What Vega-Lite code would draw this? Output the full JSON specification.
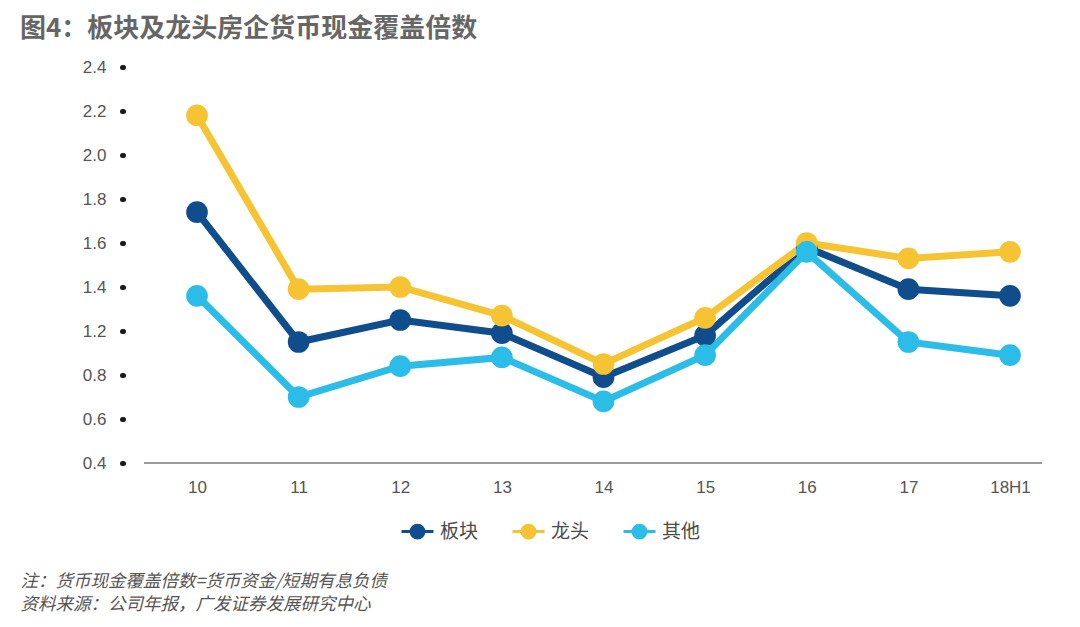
{
  "$schema": "https://vega.github.io/schema/vega-lite/v6.json",
  "width": 898,
  "height": 396,
  "autosize": "none",
  "padding": {"left": 144, "top": 67, "right": 38, "bottom": 164},
  "background": "white",
  "title": {
    "text": "图4：板块及龙头房企货币现金覆盖倍数",
    "anchor": "start",
    "frame": "group",
    "dx": -124,
    "offset": 16,
    "font": "Noto Sans CJK SC",
    "fontSize": 26,
    "fontWeight": "bold",
    "color": "#666666"
  },
  "data": {
    "values": [
      {"year": "10", "series": "板块", "value": 1.74},
      {"year": "11", "series": "板块", "value": 1.15},
      {"year": "12", "series": "板块", "value": 1.25},
      {"year": "13", "series": "板块", "value": 1.19},
      {"year": "14", "series": "板块", "value": 0.99},
      {"year": "15", "series": "板块", "value": 1.18},
      {"year": "16", "series": "板块", "value": 1.58},
      {"year": "17", "series": "板块", "value": 1.39},
      {"year": "18H1", "series": "板块", "value": 1.36},
      {"year": "10", "series": "龙头", "value": 2.18},
      {"year": "11", "series": "龙头", "value": 1.39},
      {"year": "12", "series": "龙头", "value": 1.4},
      {"year": "13", "series": "龙头", "value": 1.27},
      {"year": "14", "series": "龙头", "value": 1.05},
      {"year": "15", "series": "龙头", "value": 1.26},
      {"year": "16", "series": "龙头", "value": 1.6},
      {"year": "17", "series": "龙头", "value": 1.53},
      {"year": "18H1", "series": "龙头", "value": 1.56},
      {"year": "10", "series": "其他", "value": 1.36},
      {"year": "11", "series": "其他", "value": 0.9},
      {"year": "12", "series": "其他", "value": 1.04},
      {"year": "13", "series": "其他", "value": 1.08},
      {"year": "14", "series": "其他", "value": 0.88},
      {"year": "15", "series": "其他", "value": 1.09},
      {"year": "16", "series": "其他", "value": 1.56},
      {"year": "17", "series": "其他", "value": 1.15},
      {"year": "18H1", "series": "其他", "value": 1.09}
    ]
  },
  "layer": [
    {
      "mark": {"type": "rule", "color": "#9a9a9a", "strokeWidth": 1.5},
      "encoding": {"y": {"datum": 0.6, "type": "quantitative"}}
    },
    {
      "mark": {
        "type": "line",
        "strokeWidth": 7,
        "point": {"filled": true, "size": 470, "opacity": 1}
      },
      "encoding": {
        "x": {
          "field": "year",
          "type": "ordinal",
          "sort": null,
          "scale": {"type": "point", "range": [53, 866], "padding": 0},
          "axis": {
            "domain": false,
            "ticks": false,
            "labelAngle": 0,
            "labelFont": "Liberation Sans",
            "labelFontSize": 17,
            "labelColor": "#555555",
            "labelPadding": 16,
            "title": ["注：货币现金覆盖倍数=货币资金/短期有息负债", "资料来源：公司年报，广发证券发展研究中心"],
            "titleFont": "Noto Sans CJK SC",
            "titleFontSize": 17.5,
            "titleFontWeight": "normal",
            "titleFontStyle": "italic",
            "titleColor": "#555555",
            "titleAlign": "left",
            "titleBaseline": "alphabetic",
            "titleLineHeight": 23,
            "titleX": -124,
            "titleY": 123
          }
        },
        "y": {
          "field": "value",
          "type": "quantitative",
          "scale": {"domain": [0.6, 2.4], "nice": false, "zero": false},
          "axis": {
            "values": [0.6, 0.8, 1.0, 1.2, 1.4, 1.6, 1.8, 2.0, 2.2, 2.4],
            "labelExpr": "datum.value < 1.05 ? format(datum.value - 0.2, '.1f') : format(datum.value, '.1f')",
            "domain": false,
            "grid": false,
            "offset": 21,
            "tickSize": 1,
            "tickWidth": 5,
            "tickCap": "round",
            "tickColor": "#1a1a1a",
            "labelPadding": 16,
            "labelFont": "Liberation Sans",
            "labelFontSize": 17,
            "labelColor": "#555555",
            "title": null
          }
        },
        "color": {
          "field": "series",
          "type": "nominal",
          "sort": ["板块", "龙头", "其他"],
          "scale": {"domain": ["板块", "龙头", "其他"], "range": ["#104d8c", "#f6c433", "#2bbde8"]},
          "legend": {
            "orient": "none",
            "direction": "horizontal",
            "legendX": 256,
            "legendY": 447,
            "title": null,
            "symbolType": "M-1,0L1,0M-0.4,0a0.4,0.4 0 1,0 0.8,0a0.4,0.4 0 1,0 -0.8,0",
            "symbolSize": 1024,
            "symbolStrokeWidth": 3,
            "labelFont": "Noto Sans CJK SC",
            "labelFontSize": 19,
            "labelColor": "#4a4a4a",
            "labelOffset": 5,
            "columnPadding": 27,
            "encode": {
              "symbols": {
                "update": {
                  "fill": {"scale": "color", "field": "value"},
                  "stroke": {"scale": "color", "field": "value"},
                  "opacity": {"value": 1}
                }
              }
            }
          }
        }
      }
    }
  ],
  "config": {"view": {"stroke": null}}
}
